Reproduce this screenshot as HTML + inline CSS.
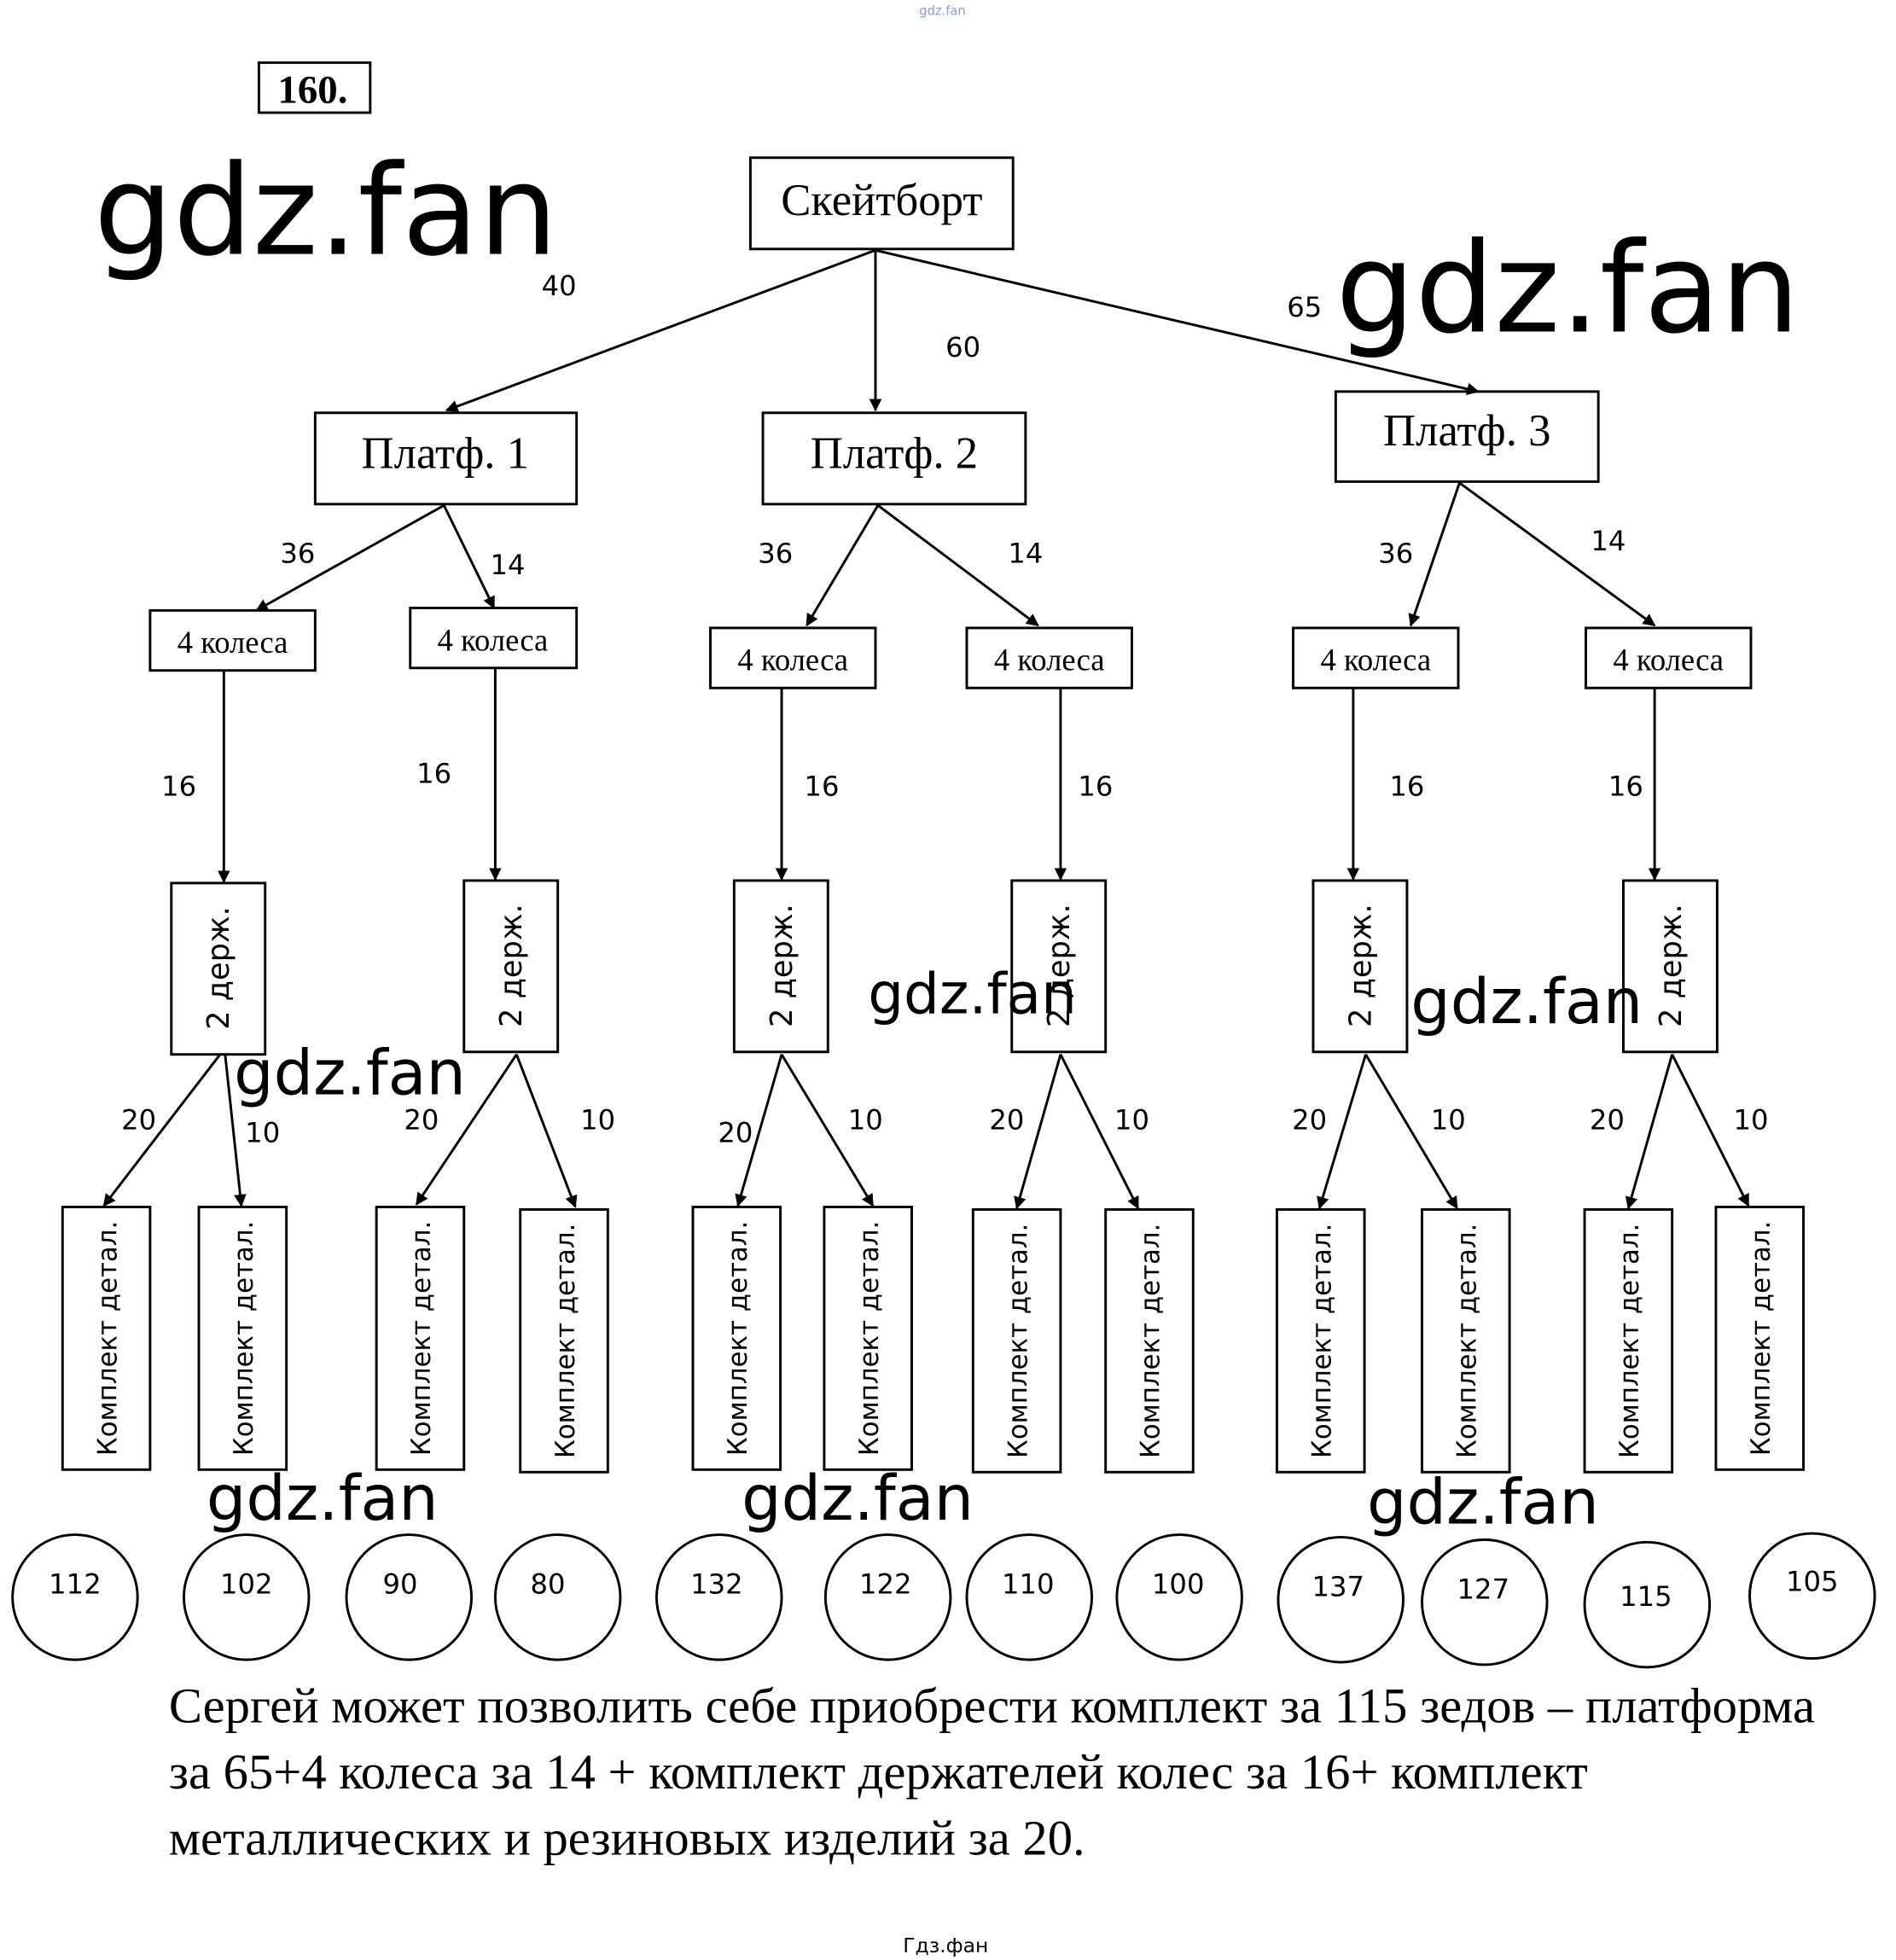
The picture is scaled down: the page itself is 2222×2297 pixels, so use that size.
<!DOCTYPE html>
<html><head><meta charset="utf-8"><style>
html,body{margin:0;padding:0;background:#fff;}
svg{display:block;}
.s{font-family:"Liberation Serif",serif;}
.a{font-family:"DejaVu Sans","Liberation Sans",sans-serif;}
</style></head><body>
<svg width="2222" height="2297" viewBox="0 0 1516 1567" xmlns="http://www.w3.org/2000/svg">
<defs><marker id="ar" markerWidth="10" markerHeight="10" refX="9" refY="5" orient="auto" markerUnits="userSpaceOnUse"><path d="M0,0 L10,5 L0,10 z" fill="#000"/></marker></defs>
<rect width="1516" height="1567" fill="#fff"/>
<g fill="none" stroke="#000" stroke-width="2">
<rect x="207" y="50" width="89" height="40"/>
<rect x="600" y="126" width="210" height="73"/>
<rect x="252" y="330" width="209" height="73"/>
<rect x="610" y="330" width="210" height="73"/>
<rect x="1068" y="313" width="210" height="72"/>
<rect x="120" y="488" width="132" height="48"/>
<rect x="328" y="486" width="133" height="48"/>
<rect x="568" y="502" width="132" height="48"/>
<rect x="773" y="502" width="132" height="48"/>
<rect x="1034" y="502" width="132" height="48"/>
<rect x="1268" y="502" width="132" height="48"/>
<rect x="137" y="706" width="75" height="137"/>
<rect x="371" y="704" width="75" height="137"/>
<rect x="587" y="704" width="75" height="137"/>
<rect x="809" y="704" width="75" height="137"/>
<rect x="1050" y="704" width="75" height="137"/>
<rect x="1298" y="704" width="75" height="137"/>
<rect x="50" y="965" width="70" height="210"/>
<rect x="159" y="965" width="70" height="210"/>
<rect x="301" y="965" width="70" height="210"/>
<rect x="416" y="967" width="70" height="210"/>
<rect x="554" y="965" width="70" height="210"/>
<rect x="659" y="965" width="70" height="210"/>
<rect x="778" y="967" width="70" height="210"/>
<rect x="884" y="967" width="70" height="210"/>
<rect x="1021" y="967" width="70" height="210"/>
<rect x="1137" y="967" width="70" height="210"/>
<rect x="1267" y="967" width="70" height="210"/>
<rect x="1372" y="965" width="70" height="210"/>
</g>
<g stroke="#000" stroke-width="2" marker-end="url(#ar)">
<line x1="700" y1="200" x2="357" y2="328"/>
<line x1="700" y1="200" x2="700" y2="328"/>
<line x1="700" y1="200" x2="1182" y2="313"/>
<line x1="355" y1="404" x2="205" y2="488"/>
<line x1="355" y1="404" x2="395" y2="486"/>
<line x1="702" y1="404" x2="645" y2="500"/>
<line x1="702" y1="404" x2="830" y2="500"/>
<line x1="1167" y1="386" x2="1128" y2="500"/>
<line x1="1167" y1="386" x2="1323" y2="500"/>
<line x1="179" y1="536" x2="179" y2="705"/>
<line x1="396" y1="534" x2="396" y2="703"/>
<line x1="625" y1="550" x2="625" y2="703"/>
<line x1="848" y1="550" x2="848" y2="703"/>
<line x1="1082" y1="550" x2="1082" y2="703"/>
<line x1="1323" y1="550" x2="1323" y2="703"/>
<line x1="176" y1="843" x2="83" y2="964"/>
<line x1="180" y1="843" x2="193" y2="964"/>
<line x1="413" y1="843" x2="333" y2="963"/>
<line x1="413" y1="843" x2="460" y2="965"/>
<line x1="625" y1="843" x2="590" y2="964"/>
<line x1="625" y1="843" x2="698" y2="964"/>
<line x1="848" y1="843" x2="813" y2="966"/>
<line x1="848" y1="843" x2="910" y2="966"/>
<line x1="1092" y1="843" x2="1055" y2="966"/>
<line x1="1092" y1="843" x2="1165" y2="966"/>
<line x1="1337" y1="843" x2="1302" y2="966"/>
<line x1="1337" y1="843" x2="1398" y2="964"/>
</g>
<g fill="none" stroke="#000" stroke-width="2">
<circle cx="60" cy="1277" r="50"/><circle cx="197" cy="1277" r="50"/><circle cx="327" cy="1277" r="50"/><circle cx="446" cy="1277" r="50"/>
<circle cx="575" cy="1277" r="50"/><circle cx="710" cy="1277" r="50"/><circle cx="823" cy="1277" r="50"/><circle cx="943" cy="1277" r="50"/>
<circle cx="1072" cy="1279" r="50"/><circle cx="1187" cy="1281" r="50"/><circle cx="1317" cy="1283" r="50"/><circle cx="1449" cy="1276" r="50"/>
</g>
<g class="a" font-size="22" text-anchor="middle">
<text x="60" y="1274">112</text><text x="197" y="1274">102</text><text x="320" y="1274">90</text><text x="438" y="1274">80</text>
<text x="573" y="1274">132</text><text x="708" y="1274">122</text><text x="822" y="1274">110</text><text x="942" y="1274">100</text>
<text x="1070" y="1276">137</text><text x="1186" y="1278">127</text><text x="1316" y="1284">115</text><text x="1449" y="1272">105</text>
<text x="447" y="236">40</text><text x="770" y="285">60</text><text x="1043" y="253">65</text>
<text x="238" y="450">36</text><text x="406" y="459">14</text><text x="620" y="450">36</text><text x="820" y="450">14</text><text x="1116" y="450">36</text><text x="1286" y="440">14</text>
<text x="143" y="636">16</text><text x="347" y="626">16</text><text x="657" y="636">16</text><text x="876" y="636">16</text><text x="1125" y="636">16</text><text x="1300" y="636">16</text>
<text x="111" y="903">20</text><text x="210" y="913">10</text><text x="337" y="903">20</text><text x="478" y="903">10</text>
<text x="588" y="913">20</text><text x="692" y="903">10</text><text x="805" y="903">20</text><text x="905" y="903">10</text>
<text x="1047" y="903">20</text><text x="1158" y="903">10</text><text x="1285" y="903">20</text><text x="1400" y="903">10</text>
</g>
<g class="s" text-anchor="middle">
<text x="250" y="82" font-size="32" font-weight="bold">160.</text>
<text x="705" y="172" font-size="36">Скейтборт</text>
<text x="356" y="374" font-size="36">Платф. 1</text>
<text x="715" y="374" font-size="36">Платф. 2</text>
<text x="1173" y="356" font-size="36">Платф. 3</text>
<g font-size="25">
<text x="186" y="522">4 колеса</text><text x="394" y="520">4 колеса</text><text x="634" y="536">4 колеса</text>
<text x="839" y="536">4 колеса</text><text x="1100" y="536">4 колеса</text><text x="1334" y="536">4 колеса</text>
</g>
</g>
<g class="a" font-size="24" text-anchor="middle">
<text transform="translate(183,774) rotate(-90)">2 держ.</text>
<text transform="translate(417,772) rotate(-90)">2 держ.</text>
<text transform="translate(633,772) rotate(-90)">2 держ.</text>
<text transform="translate(855,772) rotate(-90)">2 держ.</text>
<text transform="translate(1096,772) rotate(-90)">2 держ.</text>
<text transform="translate(1344,772) rotate(-90)">2 держ.</text>
</g>
<g class="a" font-size="21" text-anchor="middle">
<text transform="translate(93,1070) rotate(-90)">Комплект детал.</text>
<text transform="translate(202,1070) rotate(-90)">Комплект детал.</text>
<text transform="translate(344,1070) rotate(-90)">Комплект детал.</text>
<text transform="translate(459,1072) rotate(-90)">Комплект детал.</text>
<text transform="translate(597,1070) rotate(-90)">Комплект детал.</text>
<text transform="translate(702,1070) rotate(-90)">Комплект детал.</text>
<text transform="translate(821,1072) rotate(-90)">Комплект детал.</text>
<text transform="translate(927,1072) rotate(-90)">Комплект детал.</text>
<text transform="translate(1064,1072) rotate(-90)">Комплект детал.</text>
<text transform="translate(1180,1072) rotate(-90)">Комплект детал.</text>
<text transform="translate(1310,1072) rotate(-90)">Комплект детал.</text>
<text transform="translate(1415,1070) rotate(-90)">Комплект детал.</text>
</g>
<g class="a" fill="#000">
<text x="75" y="203" font-size="100">gdz.fan</text>
<text x="1068" y="265" font-size="100">gdz.fan</text>
<text x="187" y="875" font-size="50">gdz.fan</text>
<text x="694" y="810" font-size="45">gdz.fan</text>
<text x="1128" y="818" font-size="50">gdz.fan</text>
<text x="165" y="1215" font-size="50">gdz.fan</text>
<text x="593" y="1215" font-size="50">gdz.fan</text>
<text x="1093" y="1218" font-size="50">gdz.fan</text>
<text x="735" y="12" font-size="10" fill="#8899cc">gdz.fan</text>
<text x="722" y="1561" font-size="16">Гдз.фан</text>
</g>
<g class="s" font-size="40">
<text x="135" y="1377">Сергей может позволить себе приобрести комплект за 115 зедов – платформа</text>
<text x="135" y="1430">за 65+4 колеса за 14 + комплект держателей колес за 16+ комплект</text>
<text x="135" y="1483">металлических и резиновых изделий за 20.</text>
</g>
</svg>
</body></html>
